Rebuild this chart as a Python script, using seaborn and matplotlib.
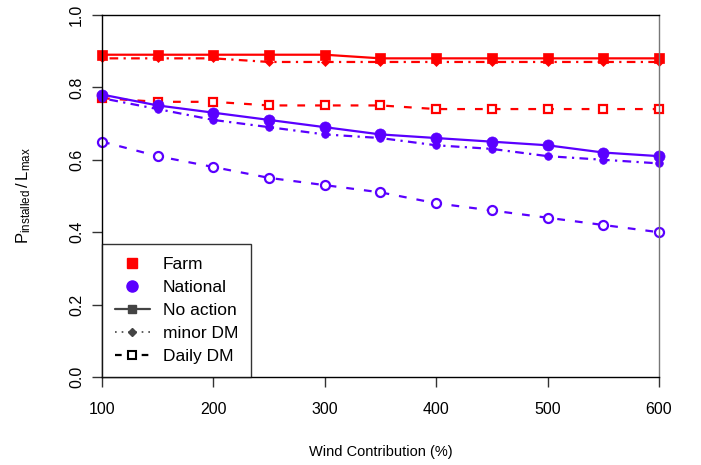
import numpy as np
import pandas as pd
import matplotlib
matplotlib.use('Agg')
import matplotlib.pyplot as plt
from matplotlib.lines import Line2D
import seaborn as sns

wind = [100, 150, 200, 250, 300, 350, 400, 450, 500, 550, 600]

farm_no_action = [0.89, 0.89, 0.89, 0.89, 0.89, 0.88, 0.88, 0.88, 0.88, 0.88, 0.88]
farm_minor_dm = [0.88, 0.88, 0.88, 0.87, 0.87, 0.87, 0.87, 0.87, 0.87, 0.87, 0.87]
farm_daily_dm = [0.77, 0.76, 0.76, 0.75, 0.75, 0.75, 0.74, 0.74, 0.74, 0.74, 0.74]
nat_no_action = [0.78, 0.75, 0.73, 0.71, 0.69, 0.67, 0.66, 0.65, 0.64, 0.62, 0.61]
nat_minor_dm = [0.77, 0.74, 0.71, 0.69, 0.67, 0.66, 0.64, 0.63, 0.61, 0.60, 0.59]
nat_daily_dm = [0.65, 0.61, 0.58, 0.55, 0.53, 0.51, 0.48, 0.46, 0.44, 0.42, 0.40]

sns.set_style('white')
plt.rcParams['font.family'] = ['Liberation Sans', 'DejaVu Sans']
plt.rcParams['text.color'] = 'black'
plt.rcParams['axes.labelcolor'] = 'black'
plt.rcParams['xtick.color'] = 'black'
plt.rcParams['ytick.color'] = 'black'
plt.rcParams['mathtext.fontset'] = 'custom'
plt.rcParams['mathtext.rm'] = 'Liberation Sans'
plt.rcParams['mathtext.it'] = 'Liberation Sans'

red = '#FF0000'
blue = '#5A00FF'
solid = '-'
dotdash = (0, (1, 2.4, 3.9, 2.4))
dashed = (0, (3.5, 4.5))

fig = plt.figure(figsize=(7.01, 4.65), dpi=100)
ax = fig.add_axes([0.1455, 0.189, 0.7945, 0.779])

# (values, colour, linestyle, marker, size, filled)
series = [
    (farm_no_action, red, solid, 's', 7, True),
    (farm_minor_dm, red, dotdash, 'D', 4.5, True),
    (farm_daily_dm, red, dashed, 's', 6, False),
    (nat_no_action, blue, solid, 'o', 8, True),
    (nat_minor_dm, blue, dotdash, 'o', 5.5, True),
    (nat_daily_dm, blue, dashed, 'o', 6.5, False),
]

for vals, col, ls, mk, ms, filled in series:
    sns.lineplot(x=wind, y=vals, ax=ax, color=col, linestyle=ls, linewidth=1.6,
                 marker=mk, markersize=ms,
                 markerfacecolor=col if filled else 'white',
                 markeredgecolor=col, markeredgewidth=0.5 if filled else 1.6,
                 clip_on=False)

ax.set_xlim(100, 600)
ax.set_ylim(0, 1.0)
ax.set_xticks([100, 200, 300, 400, 500, 600])
ax.set_yticks([0.0, 0.2, 0.4, 0.6, 0.8, 1.0])
ax.set_yticklabels(['0.0', '0.2', '0.4', '0.6', '0.8', '1.0'], rotation=90, va='center')
ax.tick_params(axis='both', direction='out', length=7, width=1, color='#333333',
               labelsize=11.5, left=True, bottom=True)
ax.tick_params(axis='x', pad=11)
ax.tick_params(axis='y', pad=6)
for sp in ax.spines.values():
    sp.set_color('black')
    sp.set_linewidth(1)
ax.spines['right'].set_color('#777777')

ax.set_xlabel('Wind Contribution (%)', fontsize=10.5, labelpad=20)
ax.set_ylabel(r'$\mathregular{P_{installed}\,/\,L_{max}}$', fontsize=12, labelpad=26)

gray = '#444444'
handles = [
    Line2D([], [], color=red, marker='s', linestyle='none', markersize=6.5),
    Line2D([], [], color=blue, marker='o', linestyle='none', markersize=8),
    Line2D([], [], color=gray, marker='s', linestyle='-', linewidth=1.6, markersize=6),
    Line2D([], [], color=gray, marker='D', linestyle=(0, (1, 3, 1, 3)), linewidth=1.2, markersize=4),
    Line2D([], [], color='black', marker='s', linestyle=(0, (3, 4, 1, 4)), linewidth=1.6,
           markersize=5.5, markerfacecolor='white', markeredgewidth=1.5),
]
labels = ['Farm', 'National', 'No action', 'minor DM', 'Daily DM']
leg = ax.legend(handles, labels, loc='lower left', bbox_to_anchor=(0, 0), borderaxespad=0,
                fancybox=False, frameon=True, edgecolor='black', fontsize=12.5,
                handlelength=2.0, handletextpad=0.75, labelspacing=0.45,
                borderpad=0.75)
leg.get_frame().set_linewidth(1)

fig.savefig('out.png', dpi=100)
